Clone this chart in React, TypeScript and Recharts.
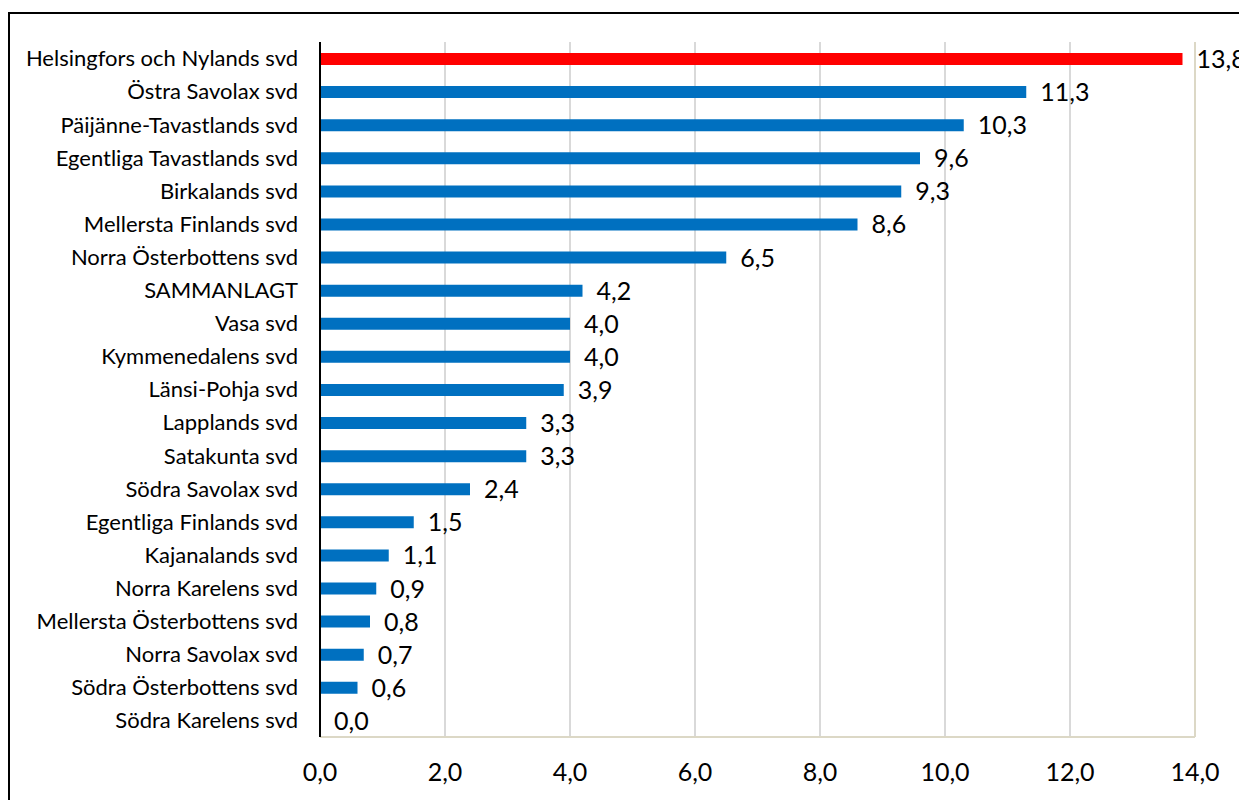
import React from "react";
import {
  BarChart,
  Bar,
  XAxis,
  YAxis,
  CartesianGrid,
  Cell,
  LabelList,
  ReferenceLine,
} from "recharts";

const categories = [
  "Helsingfors och Nylands svd",
  "Östra Savolax svd",
  "Päijänne-Tavastlands svd",
  "Egentliga Tavastlands svd",
  "Birkalands svd",
  "Mellersta Finlands svd",
  "Norra Österbottens svd",
  "SAMMANLAGT",
  "Vasa svd",
  "Kymmenedalens svd",
  "Länsi-Pohja svd",
  "Lapplands svd",
  "Satakunta svd",
  "Södra Savolax svd",
  "Egentliga Finlands svd",
  "Kajanalands svd",
  "Norra Karelens svd",
  "Mellersta Österbottens svd",
  "Norra Savolax svd",
  "Södra Österbottens svd",
  "Södra Karelens svd",
];

const values = [
  13.8, 11.3, 10.3, 9.6, 9.3, 8.6, 6.5, 4.2, 4.0, 4.0, 3.9, 3.3, 3.3, 2.4, 1.5,
  1.1, 0.9, 0.8, 0.7, 0.6, 0.0,
];

const xTicks = [0, 2, 4, 6, 8, 10, 12, 14];

const highlighted = ["Helsingfors och Nylands svd"];

const data = categories.map((name, i) => ({ name, value: values[i] }));

const fmt = (v: number) => Number(v).toFixed(1).replace(".", ",");

const FONT = "Lato, 'Open Sans', sans-serif";
const BEIGE = "#dcd8c6";

const ValueLabel = (props: any) => {
  const { x, y, width, height, value } = props;
  if (x == null || y == null) return null;
  const w = Number(width) || 0;
  const h = Number(height) || 0;
  return (
    <text
      x={Number(x) + w + 14}
      y={Number(y) + h / 2}
      dy="0.36em"
      textAnchor="start"
      fill="#000"
      fontSize={25}
      fontFamily={FONT}
    >
      {fmt(value)}
    </text>
  );
};

export default function App() {
  return (
    <div
      style={{
        position: "fixed",
        left: 0,
        top: 0,
        width: 1239,
        height: 800,
        overflow: "hidden",
        background: "#fff",
      }}
    >
      <div
        style={{
          position: "absolute",
          left: 8,
          top: 12,
          width: 1300,
          height: 900,
          border: "2px solid #000",
          boxSizing: "border-box",
        }}
      />
      <div style={{ position: "absolute", left: 0, top: 0 }}>
        <BarChart
          width={1239}
          height={800}
          data={data}
          layout="vertical"
          margin={{ top: 42, right: 44, bottom: 0, left: 0 }}
          barCategoryGap={0}
        >
          <CartesianGrid
            horizontal={false}
            stroke="#d9d9d9"
            strokeWidth={2}
          />
          <XAxis
            type="number"
            domain={[0, 14]}
            ticks={xTicks}
            tickFormatter={fmt}
            axisLine={{ stroke: BEIGE, strokeWidth: 2 }}
            tickLine={false}
            tickSize={0}
            tickMargin={26}
            height={63}
            interval={0}
            tick={{ fill: "#000", fontSize: 25, fontFamily: FONT }}
          />
          <XAxis
            xAxisId="top"
            orientation="top"
            type="number"
            domain={[0, 14]}
            ticks={xTicks}
            axisLine={{ stroke: BEIGE, strokeWidth: 2 }}
            tick={false}
            tickLine={false}
            height={0}
          />
          <YAxis
            type="category"
            dataKey="name"
            width={320}
            axisLine={{ stroke: "#000", strokeWidth: 2 }}
            tickLine={false}
            tickSize={0}
            tickMargin={22}
            interval={0}
            tick={{ fill: "#000", fontSize: 22, fontFamily: FONT }}
          />
          <ReferenceLine x={14} stroke={BEIGE} strokeWidth={2} />
          <Bar
            dataKey="value"
            barSize={12}
            minPointSize={0.01}
            isAnimationActive={false}
          >
            {data.map((d) => (
              <Cell
                key={d.name}
                fill={highlighted.includes(d.name) ? "#ff0000" : "#0070c0"}
              />
            ))}
            <LabelList dataKey="value" content={ValueLabel} />
          </Bar>
        </BarChart>
      </div>
    </div>
  );
}
